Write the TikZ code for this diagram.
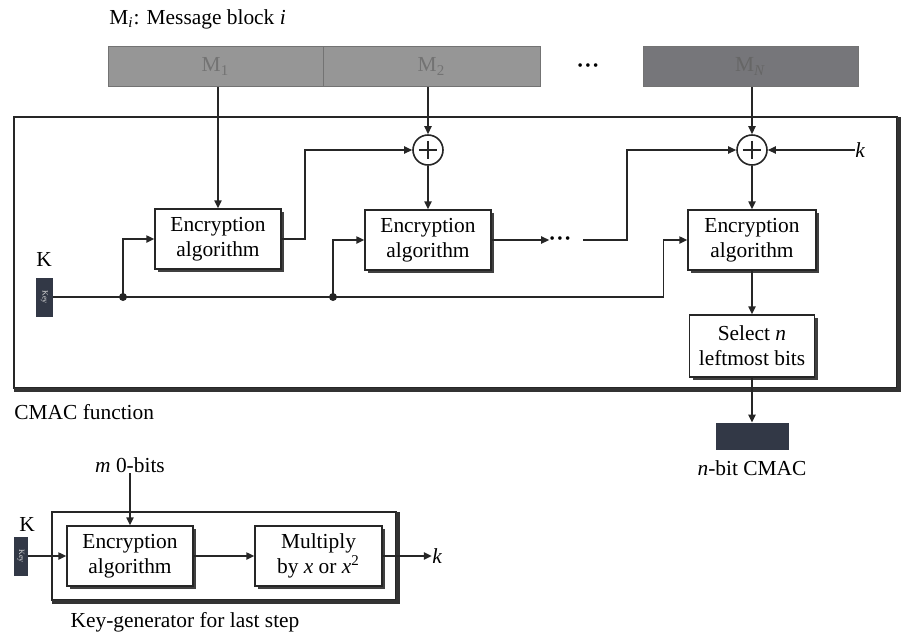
\documentclass[tikz,border=0pt]{standalone}
\usepackage{fontspec}
\setmainfont{Liberation Serif}
\usetikzlibrary{arrows.meta,shadows,calc}
\definecolor{keyfill}{RGB}{50,56,70}
\definecolor{msgfill}{RGB}{150,150,150}
\definecolor{msgdark}{RGB}{118,118,122}
\tikzset{
  base/.style={font=\fontsize{10.7}{12.5}\selectfont},
  wire/.style={line width=0.8pt,black!85},
  arr/.style={wire,-{Triangle[length=4pt,width=3.6pt]}},
  encbox/.style={base,draw=black!85,line width=0.7pt,fill=white,align=center,
    minimum width=63pt,minimum height=30pt,inner sep=0pt,
    general shadow={fill=black!75,shadow xshift=1.5pt,shadow yshift=-1.5pt}},
  msg/.style={base,draw=black!55,line width=0.5pt,fill=msgfill,text=black!55,
    minimum height=20pt,inner sep=0pt},
  keyblk/.style={fill=keyfill,minimum width=8.5pt,minimum height=19.5pt,inner sep=0pt,
    text=white!85!black,font=\fontsize{4}{4}\selectfont},
  xor/.style={circle,draw=black!85,line width=0.8pt,fill=white,minimum size=15pt,inner sep=0pt,
    path picture={\draw[line width=0.8pt,black!85]
      ([yshift=4.6pt]path picture bounding box.center) -- ([yshift=-4.6pt]path picture bounding box.center)
      ([xshift=-4.6pt]path picture bounding box.center) -- ([xshift=4.6pt]path picture bounding box.center);}},
  lbl/.style={base,inner sep=0pt},
  junc/.style={circle,fill=black!85,minimum size=4pt,inner sep=0pt}
}
\begin{document}
\begin{tikzpicture}[x=0.5pt,y=-0.5pt]
\useasboundingbox (0,0) rectangle (901,634);
% title and message blocks
\node[lbl,anchor=west] (title) at (109,19) {M\textsubscript{\textit{i}}: Message block \textit{i}};
\node[msg,minimum width=107.5pt] (M1) at (215.5,66.5) {M\textsubscript{1}};
\node[msg,minimum width=108.5pt] (M2) at (431.5,66.5) {M\textsubscript{2}};
\node[lbl,font=\fontsize{7.5}{8}\selectfont] (mdots) at (588,67) {\textbullet\,\textbullet\,\textbullet};
\node[msg,fill=msgdark,text=black!60,minimum width=107.5pt] (MN) at (750.5,66.5) {M\textsubscript{\textit{N}}};
% CMAC frame
\draw[line width=0.8pt,black!85] (14,117) rectangle (897,388);
\draw[line width=2.2pt,black!80] (14,390) -- (899,390) -- (899,117);
\node[lbl,anchor=west] (cmacf) at (14,412) {CMAC function};
% XORs
\node[xor] (X1) at (428,150) {};
\node[xor] (X2) at (752,150) {};
\node[lbl,font=\fontsize{10.7}{12}\selectfont\itshape] (kin) at (860,150) {k};
% encryption boxes
\node[encbox] (E1) at (218,239) {Encryption\\algorithm};
\node[encbox] (E2) at (428,240) {Encryption\\algorithm};
\node[encbox,minimum width=64pt] (E3) at (752,240) {Encryption\\algorithm};
\node[encbox,minimum width=62.5pt,minimum height=31pt] (Sel) at (752,346) {Select \textit{n}\\leftmost bits};
\node[fill=keyfill,minimum width=36.5pt,minimum height=13.5pt,inner sep=0pt] (Cm) at (752,436.5) {};
\node[lbl] (cmlbl) at (752,468) {\textit{n}-bit CMAC};
% key
\node[lbl] (Klab1) at (44,259) {K};
\node[keyblk] (K1) at (44.5,297) {\rotatebox{-90}{Key}};
\node[lbl,font=\fontsize{7.5}{8}\selectfont] (edots) at (560,240) {\textbullet\,\textbullet\,\textbullet};
\coordinate (c1) at (583,240);
% connectors
\draw[arr] (E1.north |- M1.south) -- (E1.north);
\draw[arr] (X1.north |- M2.south) -- (X1.north);
\draw[arr] (X2.north |- MN.south) -- (X2.north);
\draw[arr] (X1.south) -- (E2.north);
\draw[arr] (X2.south) -- (E3.north);
\draw[arr] (X2.east -| kin.west) -- (X2.east);
\draw[arr] (E1.east) -- ++(23,0) |- (X1.west);
\draw[arr] (E2.east) -- (edots.west);
\draw[arr] (c1) -- ++(44,0) |- (X2.west);
\draw[arr] (K1.east) -| ([xshift=-12pt]E3.west) -- (E3.west);
\node[junc] (j1) at (123,297) {};
\node[junc] (j2) at (333,297) {};
\draw[arr] (j1.center) |- (E1.west);
\draw[arr] (j2.center) |- (E2.west);
\draw[arr] (E3.south) -- (Sel.north);
\draw[arr] (Sel.south) -- (Cm.north);
% key generator
\node[lbl] (m0) at (130,465) {\textit{m} 0-bits};
\draw[line width=0.8pt,black!85] (52,512) rectangle (396,600);
\draw[line width=2.2pt,black!80] (52,602) -- (398,602) -- (398,512);
\node[encbox] (EK) at (130,556) {Encryption\\algorithm};
\node[encbox,minimum width=63.5pt] (Mul) at (318.5,556) {Multiply\\by \textit{x} or \textit{x}\textsuperscript{2}};
\node[lbl] (Klab2) at (27,524) {K};
\node[keyblk,minimum width=7pt] (K2) at (21,556) {\rotatebox{-90}{Key}};
\node[lbl,font=\fontsize{10.7}{12}\selectfont\itshape] (kout) at (437,556) {k};
\node[lbl] (kglbl) at (185,622) {Key-generator for last step};
\draw[arr] (m0.south) -- (EK.north);
\draw[arr] (K2.east) -- (EK.west);
\draw[arr] (EK.east) -- (Mul.west);
\draw[arr] (Mul.east) -- (Mul.east -| kout.west);
\end{tikzpicture}
\end{document}
